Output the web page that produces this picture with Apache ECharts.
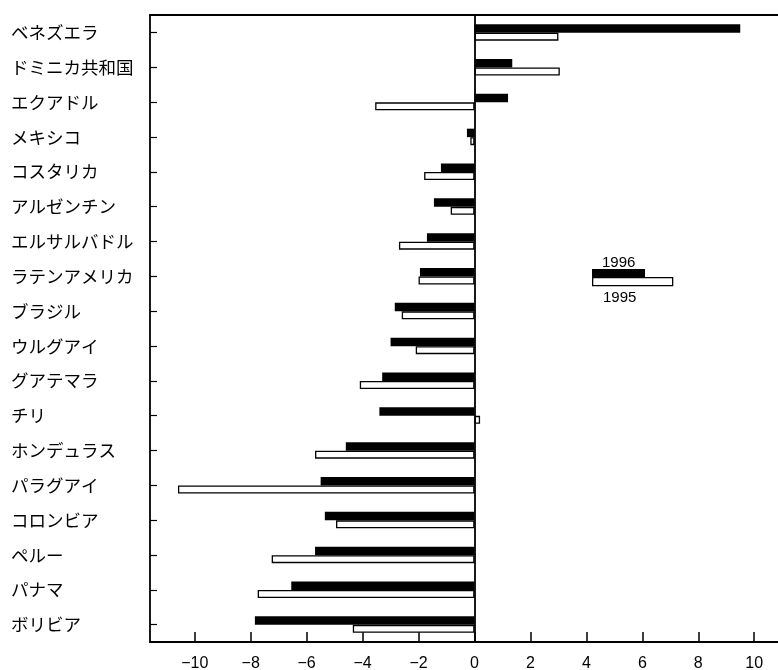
<!DOCTYPE html>
<html>
<head>
<meta charset="utf-8">
<script src="https://cdn.jsdelivr.net/npm/echarts@6/dist/echarts.min.js"></script>
<style>
html,body{margin:0;padding:0;background:#fff;}
#c{width:778px;height:670px;}
</style>
</head>
<body>
<div id="c"></div>
<script>
const categories = ['ベネズエラ','ドミニカ共和国','エクアドル','メキシコ','コスタリカ','アルゼンチン','エルサルバドル','ラテンアメリカ','ブラジル','ウルグアイ','グアテマラ','チリ','ホンデュラス','パラグアイ','コロンビア','ペルー','パナマ','ボリビア'];
const v1996 = [9.5, 1.35, 1.2, -0.27, -1.2, -1.45, -1.7, -1.95, -2.85, -3.0, -3.3, -3.4, -4.6, -5.5, -5.35, -5.7, -6.55, -7.85];
const v1995 = [3.0, 3.05, -3.55, -0.15, -1.8, -0.85, -2.7, -2.0, -2.6, -2.1, -4.1, 0.2, -5.7, -10.6, -4.95, -7.25, -7.75, -4.35];
const xTicks = [-10, -8, -6, -4, -2, 0, 2, 4, 6, 8, 10];
const seriesNames = ['1996', '1995'];

const chart = echarts.init(document.getElementById('c'), null, {renderer: 'canvas'});
const jp = '"Noto Sans CJK JP", "Noto Sans", sans-serif';
const num = '"Liberation Sans", Arial, sans-serif';
const xMin = -11.6, xMax = 10.85;

chart.setOption({
  animation: false,
  backgroundColor: '#fff',
  grid: {left: 150, right: 0, top: 15, bottom: 28, show: false, outerBoundsMode: 'none', containLabel: false},
  xAxis: [
    {
      type: 'value', min: xMin, max: xMax,
      axisLine: {show: true, onZero: false, lineStyle: {color: '#000', width: 1.8}},
      axisTick: {show: true, inside: true, length: 10, customValues: xTicks, lineStyle: {color: '#000', width: 1.5}},
      axisLabel: {
        customValues: xTicks, margin: 14, color: '#000', fontSize: 16, fontFamily: num,
        formatter: v => v < 0 ? '\u2212' + Math.abs(v) : String(v)
      },
      splitLine: {show: false}
    },
    {
      type: 'value', position: 'top', min: xMin, max: xMax,
      axisLine: {show: true, onZero: false, lineStyle: {color: '#000', width: 1.8}},
      axisTick: {show: false}, axisLabel: {show: false}, splitLine: {show: false}
    }
  ],
  yAxis: {
    type: 'category', data: categories, inverse: true,
    axisLine: {show: true, onZero: false, lineStyle: {color: '#000', width: 1.8}},
    axisTick: {show: true, inside: true, alignWithLabel: true, length: 7, lineStyle: {color: '#000', width: 1.2}},
    axisLabel: {align: 'left', margin: 139, color: '#000', fontSize: 17.5, fontFamily: jp}
  },
  series: [
    {
      name: seriesNames[0], type: 'bar', data: v1996, barWidth: 8.5, barGap: '0%',
      xAxisIndex: 0,
      itemStyle: {color: '#000'},
      markLine: {
        silent: true, symbol: ['none', 'none'], label: {show: false},
        lineStyle: {color: '#000', width: 1.8, type: 'solid'},
        data: [{xAxis: 0}]
      }
    },
    {
      name: seriesNames[1], type: 'bar', data: v1995, barWidth: 8, barGap: '0%',
      xAxisIndex: 0,
      itemStyle: {color: '#fff', borderColor: '#000', borderWidth: 1.3}
    }
  ],
  graphic: [
    {type: 'text', left: 602, top: 255, style: {text: seriesNames[0], fill: '#000', font: '15px ' + num}},
    {type: 'rect', left: 592, top: 269, shape: {width: 53, height: 8}, style: {fill: '#000'}},
    {type: 'rect', left: 592, top: 277, shape: {width: 80, height: 8}, style: {fill: '#fff', stroke: '#000', lineWidth: 1.3}},
    {type: 'text', left: 603, top: 290, style: {text: seriesNames[1], fill: '#000', font: '15px ' + num}}
  ]
});
</script>
</body>
</html>
